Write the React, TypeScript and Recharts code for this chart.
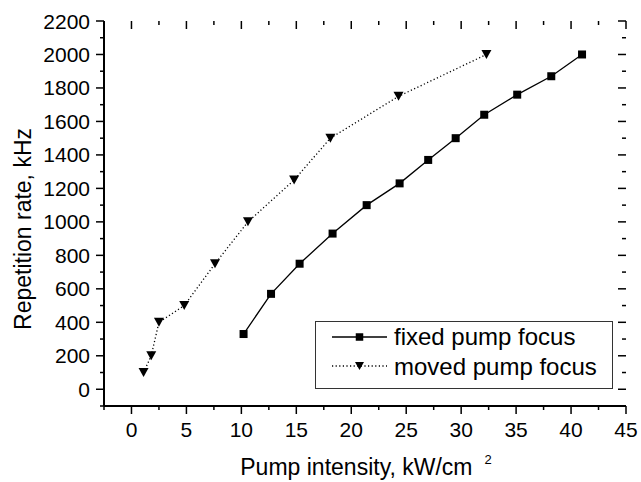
import { LineChart, Line, XAxis, YAxis, Legend } from 'recharts';

// fixed pump focus (squares)
const fixedIntensity = [10.2, 12.7, 15.3, 18.3, 21.4, 24.4, 27.0, 29.5, 32.1, 35.1, 38.2, 41.0];
const fixedRate = [330, 570, 750, 930, 1100, 1230, 1370, 1500, 1640, 1760, 1870, 2000];

// moved pump focus (triangles)
const movedIntensity = [1.1, 1.8, 2.5, 4.8, 7.6, 10.6, 14.8, 18.1, 24.3, 32.3];
const movedRate = [100, 200, 400, 500, 750, 1000, 1250, 1500, 1750, 2000];

// major + minor tick positions
const xTicks = [-2.5, 0, 2.5, 5, 7.5, 10, 12.5, 15, 17.5, 20, 22.5, 25, 27.5, 30, 32.5, 35, 37.5, 40, 42.5, 45];
const yTicks = [
  -100, 0, 100, 200, 300, 400, 500, 600, 700, 800, 900, 1000, 1100,
  1200, 1300, 1400, 1500, 1600, 1700, 1800, 1900, 2000, 2100, 2200,
];

const seriesNames = ['fixed pump focus', 'moved pump focus'];

const FONT = '"Liberation Sans", Arial, Helvetica, sans-serif';

// plot box (chart margins + axis sizes)
const W = 641;
const H = 482;
const M = { top: 21, right: 15, bottom: 0, left: 0 };
const X_AXIS_H = 76;
const Y_AXIS_W = 104;
const PLOT_TOP = M.top;
const PLOT_RIGHT = W - M.right;

const fixedData = fixedIntensity.map((x, i) => ({ x, y: fixedRate[i] }));
const movedData = movedIntensity.map((x, i) => ({ x, y: movedRate[i] }));

const axisLine = { stroke: '#000', strokeWidth: 2 };

const Square = ({ cx, cy, size = 8 }: { cx: number; cy: number; size?: number }) => (
  <rect x={cx - size / 2} y={cy - size / 2} width={size} height={size} fill="#000" />
);

const Triangle = ({ cx, cy, w = 10, h = 9 }: { cx: number; cy: number; w?: number; h?: number }) => (
  <polygon
    points={`${cx - w / 2},${cy - h / 2} ${cx + w / 2},${cy - h / 2} ${cx},${cy + h / 2}`}
    fill="#000"
  />
);

// bottom ticks point out, the mirrored top ones point in; minor ticks are shorter
const XTick = (props: any) => {
  const { x, y, payload } = props;
  const major = payload.value % 5 === 0;
  const len = major ? 8 : 4;
  return (
    <g>
      <line x1={x} y1={y} x2={x} y2={y + len} stroke="#000" strokeWidth={1.5} />
      <line x1={x} y1={PLOT_TOP} x2={x} y2={PLOT_TOP + len} stroke="#000" strokeWidth={1.5} />
      {major && (
        <text x={x} y={y + 31} textAnchor="middle" fontSize={21} fontFamily={FONT} fill="#000">
          {payload.value}
        </text>
      )}
    </g>
  );
};

const YTick = (props: any) => {
  const { x, y, payload } = props;
  const major = payload.value % 200 === 0;
  const len = major ? 8 : 4;
  return (
    <g>
      <line x1={x} y1={y} x2={x - len} y2={y} stroke="#000" strokeWidth={1.5} />
      <line x1={PLOT_RIGHT} y1={y} x2={PLOT_RIGHT - len} y2={y} stroke="#000" strokeWidth={1.5} />
      {major && (
        <text x={x - 14} y={y + 7.5} textAnchor="end" fontSize={21} fontFamily={FONT} fill="#000">
          {payload.value}
        </text>
      )}
    </g>
  );
};

const XTitle = () => (
  <text x={366} y={475} textAnchor="middle" fontSize={23} fontFamily={FONT} fill="#000">
    Pump intensity, kW/cm
    <tspan dx={12} dy={-11} fontSize={13}>2</tspan>
  </text>
);

const YTitle = () => (
  <text
    transform="translate(31, 229) rotate(-90)"
    textAnchor="middle"
    fontSize={23}
    fontFamily={FONT}
    fill="#000"
  >
    Repetition rate, kHz
  </text>
);

const LegendBox = () => (
  <svg width={299} height={68} style={{ display: 'block' }}>
    <rect x={0.5} y={0.5} width={297} height={67} fill="#fff" stroke="#333" strokeWidth={1} />
    <line x1={17} y1={16} x2={72} y2={16} stroke="#000" strokeWidth={1.3} />
    <Square cx={44.5} cy={16} size={7.5} />
    <text x={79} y={24} fontSize={24} fontFamily={FONT} fill="#000">{seriesNames[0]}</text>
    <line x1={17} y1={45} x2={72} y2={45} stroke="#000" strokeWidth={1.3} strokeDasharray="1.2 2.4" />
    <Triangle cx={44.5} cy={45} w={9} h={8} />
    <text x={79} y={53.5} fontSize={24} fontFamily={FONT} fill="#000">{seriesNames[1]}</text>
  </svg>
);

export default function App() {
  return (
    <div style={{ position: 'absolute', left: 0, top: 0, width: W, height: H, background: '#fff' }}>
      <LineChart width={W} height={H} margin={M}>
        <XAxis
          xAxisId="b"
          type="number"
          dataKey="x"
          domain={[-2.5, 45]}
          allowDataOverflow
          ticks={xTicks}
          interval={0}
          tickSize={0}
          tickMargin={0}
          tickLine={false}
          axisLine={axisLine}
          tick={(p: any) => <XTick {...p} />}
          height={X_AXIS_H}
          label={{ content: () => <XTitle /> }}
        />
        <XAxis
          xAxisId="t"
          orientation="top"
          type="number"
          dataKey="x"
          domain={[-2.5, 45]}
          allowDataOverflow
          tick={false}
          tickLine={false}
          axisLine={axisLine}
          height={0}
        />
        <YAxis
          yAxisId="l"
          type="number"
          domain={[-100, 2200]}
          allowDataOverflow
          ticks={yTicks}
          interval={0}
          tickSize={0}
          tickMargin={0}
          tickLine={false}
          axisLine={axisLine}
          tick={(p: any) => <YTick {...p} />}
          width={Y_AXIS_W}
          label={{ content: () => <YTitle /> }}
        />
        <YAxis
          yAxisId="r"
          orientation="right"
          type="number"
          domain={[-100, 2200]}
          allowDataOverflow
          tick={false}
          tickLine={false}
          axisLine={axisLine}
          width={0}
        />
        <Line
          xAxisId="b"
          yAxisId="l"
          data={movedData}
          dataKey="y"
          name={seriesNames[1]}
          type="linear"
          stroke="#000"
          strokeWidth={1.3}
          strokeDasharray="1.2 2.4"
          isAnimationActive={false}
          dot={(p: any) => <Triangle key={`m-${p.index}`} cx={p.cx} cy={p.cy} />}
        />
        <Line
          xAxisId="b"
          yAxisId="l"
          data={fixedData}
          dataKey="y"
          name={seriesNames[0]}
          type="linear"
          stroke="#000"
          strokeWidth={1.3}
          isAnimationActive={false}
          dot={(p: any) => <Square key={`f-${p.index}`} cx={p.cx} cy={p.cy} />}
        />
        <Legend
          layout="horizontal"
          verticalAlign="middle"
          align="center"
          wrapperStyle={{ left: 315, top: 321, width: 299, height: 68 }}
          content={() => <LegendBox />}
        />
      </LineChart>
    </div>
  );
}
